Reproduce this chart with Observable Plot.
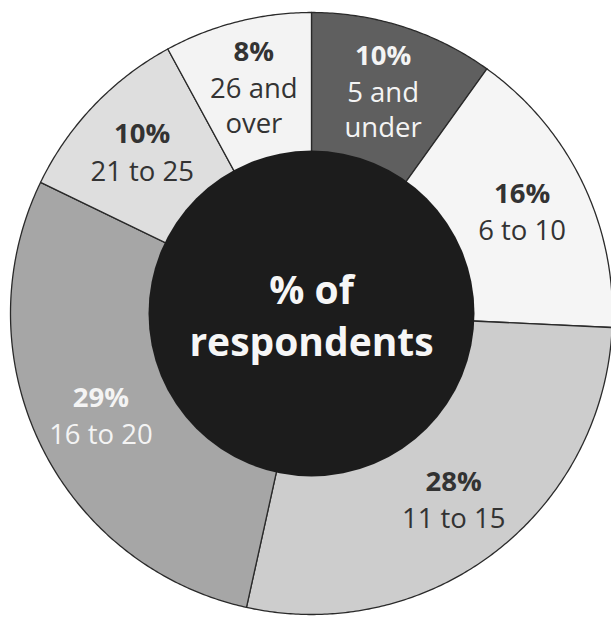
<!DOCTYPE html>
<html>
<head>
<meta charset="utf-8">
<script src="https://cdn.jsdelivr.net/npm/d3@7"></script>
<script src="https://cdn.jsdelivr.net/npm/@observablehq/plot@0.6"></script>
<style>
  html, body { margin: 0; padding: 0; background: #ffffff; }
  #chart svg { display: block; }
</style>
</head>
<body>
<div id="chart"></div>
<script>
// ---- data ----
const categories = ["5 and under", "6 to 10", "11 to 15", "16 to 20", "21 to 25", "26 and over"];
const shares = [10, 16, 28, 29, 10, 8];
const labelLines = ["5 and\nunder", "6 to 10", "11 to 15", "16 to 20", "21 to 25", "26 and\nover"];
const centerTitle = "% of\nrespondents";

// ---- styles ----
const palette = ["#5f5f5f", "#f5f5f5", "#cdcdcd", "#a6a6a6", "#dedede", "#f3f3f3"];
const lightText = new Set(["5 and under", "16 to 20"]);

// ---- layout constants (pixels) ----
const W = 611, H = 621;
const cx = 311, cy = 313;
const R = 301, rInner = 163, rLabel = 234;
const fontSize = 27.5, lineH = 35;

const rows = categories.map((c, i) => ({category: c, share: shares[i], label: labelLines[i]}));
const arcs = d3.pie().sort(null).value(d => d.share)(rows);

// slice polygons (outer arc + centre)
const polys = arcs.flatMap(a => {
  const n = Math.max(2, Math.ceil((a.endAngle - a.startAngle) / (Math.PI / 360)));
  const pts = d3.range(n + 1).map(k => {
    const t = a.startAngle + (a.endAngle - a.startAngle) * k / n;
    return {category: a.data.category, x: R * Math.sin(t), y: R * Math.cos(t)};
  });
  pts.push({category: a.data.category, x: 0, y: 0});
  return pts;
});

const labels = arcs.map(a => {
  const mid = (a.startAngle + a.endAngle) / 2;
  const nName = a.data.label.split("\n").length;
  const N = 1 + nName;
  const lx = rLabel * Math.sin(mid), ly = rLabel * Math.cos(mid);
  return {
    category: a.data.category,
    pct: a.data.share + "%",
    name: a.data.label,
    x: lx,
    yPct: ly + (N - 1) / 2 * lineH,
    yName: ly - lineH / 2,
    color: lightText.has(a.data.category) ? "#f4f4f4" : "#333333"
  };
});

const chart = Plot.plot({
  width: W,
  height: H,
  margin: 0,
  style: {background: "#ffffff", fontFamily: "'Open Sans', sans-serif"},
  x: {domain: [-cx, W - cx], axis: null},
  y: {domain: [cy - H, cy], axis: null},
  color: {domain: categories, range: palette},
  marks: [
    Plot.line(polys, {
      x: "x", y: "y", z: "category", fill: "category",
      stroke: "#2a2a2a", strokeWidth: 1.3, strokeLinejoin: "round",
      curve: "linear-closed"
    }),
    Plot.dot([{x: 0, y: 0}], {x: "x", y: "y", r: rInner, fill: "#1c1c1c", stroke: "none"}),
    Plot.text(labels, {
      x: "x", y: "yPct", text: "pct", fill: d => d.color,
      fontSize: fontSize, fontWeight: "bold", lineAnchor: "middle"
    }),
    Plot.text(labels, {
      x: "x", y: "yName", text: "name", fill: d => d.color,
      fontSize: fontSize, lineHeight: lineH / fontSize, lineAnchor: "middle"
    }),
    Plot.text([centerTitle], {
      x: () => 0, y: () => 0, text: d => d, fill: "#f6f6f6",
      fontSize: 39, fontWeight: "bold", lineHeight: 52 / 39, lineAnchor: "middle"
    })
  ]
});

document.getElementById("chart").appendChild(chart);
</script>
</body>
</html>
